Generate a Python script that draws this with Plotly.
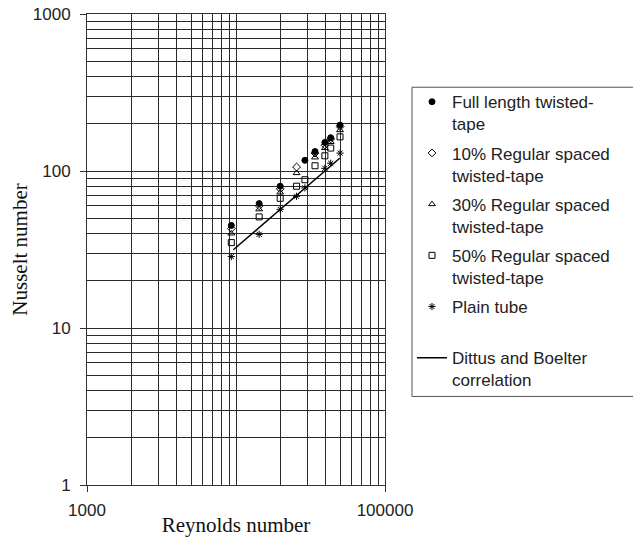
import plotly.graph_objects as go

# ---- data ----
re_full = [9300, 14300, 19800, 29000, 33900, 39500, 43200, 49900]
nu_full = [45, 62, 80, 117, 133, 152, 163, 196]

re_10 = [9300, 14300, 19800, 25500, 33900, 39500, 43200, 49900]
nu_10 = [43, 60, 77, 106, 130, 146, 160, 192]

re_30 = [9300, 14300, 19800, 25500, 33900, 39500, 43200, 49900]
nu_30 = [40, 57, 73, 97, 122, 140, 153, 182]

re_50 = [9300, 14300, 19800, 25500, 29000, 33900, 39500, 43200, 49900]
nu_50 = [35, 51, 67, 80, 88, 108, 125, 140, 165]

re_plain = [9300, 14300, 19800, 25500, 29000, 39500, 43200, 49900]
nu_plain = [28.5, 39.5, 57, 69, 78, 104, 112, 130]

re_db = [9600, 49900]
nu_db = [31.5, 121]

names = ["Full length twisted-<br>tape",
         "10% Regular spaced<br>twisted-tape",
         "30% Regular spaced<br>twisted-tape",
         "50% Regular spaced<br>twisted-tape",
         "Plain tube<br> ",
         "Dittus and Boelter<br>correlation"]

x_ticks = [1000, 100000]
y_ticks = [1, 10, 100, 1000]
x_minor = [m * 10 ** e for e in (3, 4) for m in range(2, 11)][:-1]
y_minor = [m * 10 ** e for e in (0, 1, 2) for m in range(2, 10)]

fig = go.Figure()

series = [
    (re_full, nu_full, "circle", names[0]),
    (re_10, nu_10, "diamond-open", names[1]),
    (re_30, nu_30, "triangle-up-open", names[2]),
    (re_50, nu_50, "square-open", names[3]),
    (re_plain, nu_plain, "asterisk-open", names[4]),
]
for i, (x, y, sym, nm) in enumerate(series):
    fig.add_trace(go.Scatter(
        x=x, y=y, mode="markers", name=nm, legendgroup=f"g{i}",
        marker=dict(symbol=sym, size=6, color="black",
                    line=dict(color="black", width=1)),
    ))

fig.add_trace(go.Scatter(
    x=re_db, y=nu_db, mode="lines", name=names[5], legendgroup="g5",
    line=dict(color="black", width=1.5),
))

grid_col = "#2a2a2a"
tick_font = dict(family="Liberation Sans, Arial, sans-serif", size=17, color="#222")
title_font = dict(family="Liberation Serif, Times New Roman, serif", size=21, color="#111")

# legend frame (runs past the right edge, as in the reference)
fig.add_shape(type="rect", xref="paper", yref="paper",
              x0=1.0906, x1=1.95, y0=0.188, y1=0.8445,
              line=dict(color="#555", width=1), fillcolor="rgba(0,0,0,0)",
              layer="above")

fig.update_layout(
    width=633, height=529,
    margin=dict(l=79, r=256, t=6, b=52, autoexpand=False),
    paper_bgcolor="white", plot_bgcolor="white",
    showlegend=True,
    legend=dict(
        x=1.0906, y=0.851, xanchor="left", yanchor="top",
        borderwidth=0, bgcolor="rgba(0,0,0,0)",
        font=dict(family="Liberation Sans, Arial, sans-serif", size=17, color="#222"),
        traceorder="grouped", tracegroupgap=4, valign="top",
    ),
    xaxis=dict(
        type="log", range=[3, 5], automargin=False,
        tickmode="array", tickvals=x_ticks, ticktext=["1000", "100000"],
        ticks="outside", ticklen=6, tickcolor="#333",
        showgrid=True, gridcolor=grid_col, gridwidth=1,
        showline=True, linecolor="#333", linewidth=1, mirror=True,
        tickfont=tick_font, ticklabelstandoff=4, ticklabeloverflow="allow",
        minor=dict(tickmode="array", tickvals=x_minor, showgrid=True,
                   gridcolor=grid_col, gridwidth=1, ticks=""),
        title=dict(text="Reynolds number", font=title_font, standoff=6),
        zeroline=False,
    ),
    yaxis=dict(
        type="log", range=[0, 3], automargin=False,
        tickmode="array", tickvals=y_ticks, ticktext=["1", "10", "100", "1000"],
        ticks="outside", ticklen=6, tickcolor="#333",
        showgrid=True, gridcolor=grid_col, gridwidth=1,
        showline=True, linecolor="#333", linewidth=1, mirror=True,
        tickfont=tick_font, ticklabelstandoff=6, ticklabeloverflow="allow",
        minor=dict(tickmode="array", tickvals=y_minor, showgrid=True,
                   gridcolor=grid_col, gridwidth=1, ticks=""),
        title=dict(text="Nusselt number", font=title_font, standoff=0),
        zeroline=False,
    ),
)

fig.write_html("out.html")
